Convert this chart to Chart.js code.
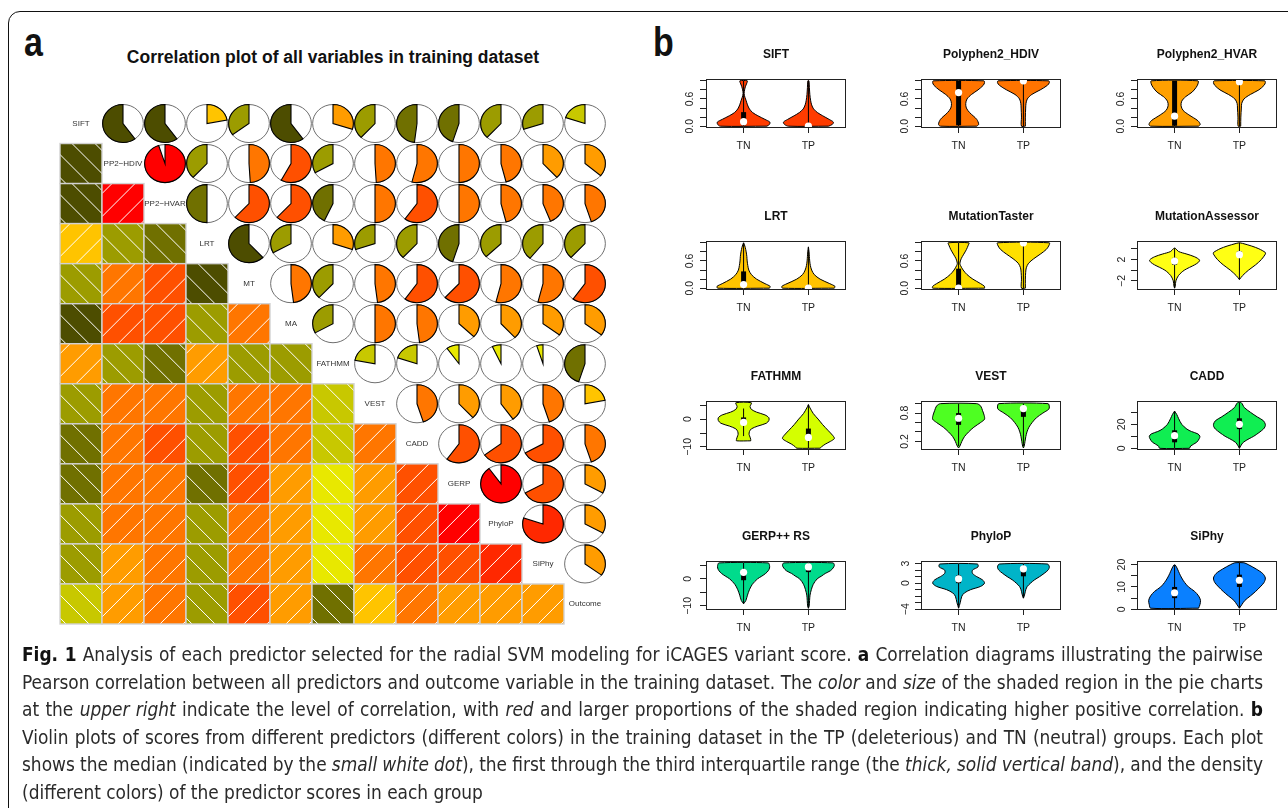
<!DOCTYPE html>
<html>
<head>
<meta charset="utf-8">
<script src="https://cdn.jsdelivr.net/npm/chart.js@4.4.1/dist/chart.umd.min.js"></script>
<style>
  body { margin: 0; width: 1288px; height: 808px; overflow: hidden; position: relative; background: #fff;
         font-family: "Liberation Sans", Arial, sans-serif; }
  .frame { position: absolute; left: 8px; top: 11px; width: 1400px; height: 900px;
           border: 1.5px solid #111; border-radius: 12px; }
  .plabel { position: absolute; font: bold 40px "Liberation Sans", Arial, sans-serif; color: #111;
            transform: scaleX(0.85); transform-origin: left top; line-height: 1; }
  .ctitle { position: absolute; left: 83px; width: 500px; top: 47px; text-align: center;
            font: bold 17.5px "Liberation Sans", Arial, sans-serif; color: #111; }
  canvas { position: absolute; }
  .caption { position: absolute; left: 22px; top: 641px; width: 1241px; color: #2a2a2a;
             font-family: "Liberation Sans Narrow", "DejaVu Sans Condensed", "Liberation Sans", sans-serif; font-size: 19px; }
  .cap-line { height: 27.6px; line-height: 27.6px; white-space: nowrap; }
  .caption b { font-weight: 700; color: #111; }
</style>
</head>
<body>
<div class="frame"></div>
<div class="plabel" style="left:24px;top:22px">a</div>
<div class="plabel" style="left:653px;top:22px">b</div>
<div class="ctitle">Correlation plot of all variables in training dataset</div>
<canvas id="corr" width="640" height="640" style="left:0;top:0;width:640px;height:640px"></canvas>
<div id="violins"></div>
<div class="caption">
  <div class="cap-line"><span><b>Fig. 1</b> Analysis of each predictor selected for the radial SVM modeling for iCAGES variant score. <b>a</b> Correlation diagrams illustrating the pairwise</span></div>
  <div class="cap-line"><span>Pearson correlation between all predictors and outcome variable in the training dataset. The <i>color</i> and <i>size</i> of the shaded region in the pie charts</span></div>
  <div class="cap-line"><span>at the <i>upper right</i> indicate the level of correlation, with <i>red</i> and larger proportions of the shaded region indicating higher positive correlation. <b>b</b></span></div>
  <div class="cap-line"><span>Violin plots of scores from different predictors (different colors) in the training dataset in the TP (deleterious) and TN (neutral) groups. Each plot</span></div>
  <div class="cap-line"><span>shows the median (indicated by the <i>small white dot</i>), the first through the third interquartile range (the <i>thick, solid vertical band</i>), and the density</span></div>
  <div class="cap-line last"><span>(different colors) of the predictor scores in each group</span></div>
</div>
<script>
// ---------- panel a: correlation data ----------
const variables = ['SIFT', 'PP2\u2212HDIV', 'PP2\u2212HVAR', 'LRT', 'MT', 'MA', 'FATHMM', 'VEST', 'CADD', 'GERP', 'PhyloP', 'SiPhy', 'Outcome']
// upper triangle, each row against the variables that follow it
const corrSIFT = [-0.6, -0.6, 0.22, -0.35, -0.6, 0.3, -0.38, -0.48, -0.45, -0.38, -0.3, -0.2]
const corrHDIV = [0.95, -0.38, 0.49, 0.58, -0.33, 0.49, 0.54, 0.5, 0.46, 0.38, 0.36]
const corrHVAR = [-0.5, 0.62, 0.62, -0.43, 0.5, 0.6, 0.5, 0.46, 0.44, 0.45]
const corrLRT = [-0.62, -0.33, 0.3, -0.3, -0.38, -0.45, -0.37, -0.39, -0.38]
const corrMT = [0.48, -0.38, 0.48, 0.6, 0.62, 0.54, 0.54, 0.6]
const corrMA = [-0.33, 0.5, 0.48, 0.37, 0.38, 0.35, 0.35]
const corrFATHMM = [-0.22, -0.2, -0.1, -0.07, -0.05, -0.45]
const corrVEST = [0.45, 0.38, 0.4, 0.45, 0.22]
const corrCADD = [0.6, 0.65, 0.67, 0.45]
const corrGERP = [0.9, 0.67, 0.33]
const corrPhyloP = [0.8, 0.33]
const corrSiPhy = [0.35]
const corrRows = [corrSIFT, corrHDIV, corrHVAR, corrLRT, corrMT, corrMA, corrFATHMM, corrVEST, corrCADD, corrGERP, corrPhyloP, corrSiPhy]

const shadeColors = ['#4d4d00', '#707000', '#9c9c00', '#c8c800', '#e8e800', '#ffc400', '#ff9c00', '#ff7600', '#ff5000', '#ff2800', '#ff0000']
const shadeBreaks = [-0.55, -0.42, -0.25, -0.12, 0.12, 0.27, 0.42, 0.55, 0.72, 0.87]

function shadeColor(r) {
  let i = 0
  while (i < shadeBreaks.length && r > shadeBreaks[i]) i++
  return shadeColors[i]
}

const n = variables.length
const corr = []
for (let i = 0; i < n; i++) corr.push(new Array(n).fill(1))
corrRows.forEach((row, i) => row.forEach((r, k) => {
  corr[i][i + 1 + k] = r
  corr[i + 1 + k][i] = r
}))

const lowerCells = []
const upperCells = []
const diagCells = []
for (let i = 0; i < n; i++) {
  for (let j = 0; j < n; j++) {
    const pt = { x: j + 0.5, y: i + 0.5, r: corr[i][j] }
    if (i > j) lowerCells.push(pt)
    else if (i < j) upperCells.push(pt)
    else diagCells.push({ x: j + 0.5, y: i + 0.5, label: variables[i] })
  }
}

const corrgram = {
  id: 'corrgram',
  afterDatasetsDraw(chart) {
    const { ctx, scales: { x, y } } = chart
    const cw = x.getPixelForValue(1) - x.getPixelForValue(0)
    const ch = y.getPixelForValue(1) - y.getPixelForValue(0)

    // lower panel: shaded, hatched squares
    chart.getDatasetMeta(0).data.forEach((el, k) => {
      const r = chart.data.datasets[0].data[k].r
      const x0 = el.x - cw / 2
      const y0 = el.y - ch / 2
      ctx.save()
      ctx.fillStyle = shadeColor(r)
      ctx.fillRect(x0, y0, cw, ch)
      ctx.beginPath()
      ctx.rect(x0, y0, cw, ch)
      ctx.clip()
      ctx.strokeStyle = '#ffffff'
      ctx.lineWidth = 1
      ctx.beginPath()
      if (r >= 0) {
        for (const c of [10, 33, 56, 79]) { ctx.moveTo(x0, y0 + c); ctx.lineTo(x0 + c, y0) }
      } else {
        for (const c of [-34, -11, 12, 35]) { ctx.moveTo(x0 + c, y0); ctx.lineTo(x0 + c + ch, y0 + ch) }
      }
      ctx.stroke()
      ctx.restore()
      ctx.strokeStyle = '#d2d2d2'
      ctx.lineWidth = 1.4
      ctx.strokeRect(x0, y0, cw, ch)
    })

    // upper panel: pies
    chart.getDatasetMeta(1).data.forEach((el, k) => {
      const r = chart.data.datasets[1].data[k].r
      const rx = cw * 0.485
      const ry = ch * 0.475
      ctx.beginPath()
      ctx.ellipse(el.x, el.y, rx, ry, 0, 0, Math.PI * 2)
      ctx.fillStyle = '#fff'
      ctx.fill()
      ctx.strokeStyle = '#6e6e6e'
      ctx.lineWidth = 1
      ctx.stroke()
      const start = -Math.PI / 2
      ctx.beginPath()
      ctx.moveTo(el.x, el.y)
      ctx.ellipse(el.x, el.y, rx, ry, 0, start, start + Math.PI * 2 * r, r < 0)
      ctx.closePath()
      ctx.fillStyle = shadeColor(r)
      ctx.fill()
      ctx.strokeStyle = '#000'
      ctx.lineWidth = 1.1
      ctx.stroke()
    })

    // diagonal: variable names
    ctx.fillStyle = '#333'
    ctx.font = '8px "Liberation Sans", Arial, sans-serif'
    ctx.textAlign = 'center'
    ctx.textBaseline = 'middle'
    chart.getDatasetMeta(2).data.forEach((el, k) => {
      ctx.fillText(chart.data.datasets[2].data[k].label, el.x, el.y)
    })
  },
}

new Chart(document.getElementById('corr'), {
  type: 'scatter',
  data: {
    datasets: [
      { data: lowerCells, pointRadius: 0 },
      { data: upperCells, pointRadius: 0 },
      { data: diagCells, pointRadius: 0 },
    ],
  },
  options: {
    responsive: false,
    animation: false,
    events: [],
    layout: { padding: { left: 60, top: 103.5, right: 34, bottom: 16 } },
    plugins: { legend: { display: false }, tooltip: { enabled: false } },
    scales: {
      x: { type: 'linear', min: 0, max: 13, display: false },
      y: { type: 'linear', min: 0, max: 13, reverse: true, display: false },
    },
  },
  plugins: [corrgram],
})

// ---------- panel b: violin data ----------
const groups = ['TN', 'TP']
const violinTitles = ['SIFT', 'Polyphen2_HDIV', 'Polyphen2_HVAR', 'LRT', 'MutationTaster', 'MutationAssessor',
  'FATHMM', 'VEST', 'CADD', 'GERP++ RS', 'PhyloP', 'SiPhy']
const violinFills = ['#ff3c00', '#ff7400', '#ffa000', '#ffc300', '#ffe000', '#ffff14',
  '#d4ff00', '#4eff22', '#10ee52', '#00db8c', '#00b4c8', '#0a80ff']
const yLimits = [[-0.04, 1.04], [-0.04, 1.04], [-0.04, 1.04], [-0.04, 1.04], [-0.04, 1.04], [-3.7, 5.45],
  [-11.1, 6.5], [0.017, 1.056], [-1.4, 39.4], [-11.5, 6.6], [-4.12, 3.4], [-0.3, 21.6]]
const unitTicks = [0, 0.2, 0.4, 0.6, 0.8, 1]
const unitLabels = ['0.0', '', '', '0.6', '', '']
const yTicks = [unitTicks, unitTicks, unitTicks, unitTicks, unitTicks, [-2, 0, 2, 4],
  [-10, -5, 0, 5], [0.2, 0.4, 0.6, 0.8, 1.0], [0, 10, 20, 30], [-10, -5, 0, 5], [-4, -3, -2, -1, 0, 1, 2, 3], [0, 5, 10, 15, 20]]
const yTickLabels = [unitLabels, unitLabels, unitLabels, unitLabels, unitLabels, ['\u22122', '', '2', ''],
  ['\u221210', '', '0', ''], ['0.2', '', '', '0.8', ''], ['0', '', '20', ''], ['\u221210', '', '0', ''],
  ['\u22124', '', '', '', '0', '', '', '3'], ['0', '', '10', '', '20']]

// violin outlines: [score, half width] from bottom to top
const siftTN = [[0, 0.36], [0.04, 0.4], [0.09, 0.405], [0.15, 0.33], [0.23, 0.22], [0.3, 0.14], [0.38, 0.09], [0.47, 0.06], [0.56, 0.04], [0.64, 0.02], [0.72, 0.008], [0.8, 0.015], [0.88, 0.03], [0.95, 0.05], [1.0, 0.057]]
const siftTP = [[0, 0.31], [0.04, 0.37], [0.09, 0.385], [0.15, 0.32], [0.23, 0.22], [0.3, 0.14], [0.38, 0.08], [0.47, 0.05], [0.56, 0.035], [0.7, 0.022], [0.85, 0.015], [1.0, 0.008]]
const hdivTN = [[0, 0.28], [0.04, 0.31], [0.15, 0.28], [0.3, 0.17], [0.4, 0.12], [0.5, 0.11], [0.6, 0.13], [0.7, 0.2], [0.8, 0.3], [0.9, 0.38], [0.96, 0.4], [1.0, 0.39]]
const hdivTP = [[0, 0.03], [0.2, 0.03], [0.4, 0.035], [0.5, 0.04], [0.6, 0.06], [0.7, 0.13], [0.8, 0.26], [0.9, 0.37], [0.96, 0.4], [1.0, 0.39]]
const hvarTN = [[0, 0.37], [0.04, 0.395], [0.12, 0.36], [0.25, 0.22], [0.35, 0.13], [0.45, 0.1], [0.55, 0.11], [0.65, 0.17], [0.75, 0.27], [0.85, 0.33], [0.93, 0.36], [1.0, 0.36]]
const hvarTP = [[0, 0.02], [0.2, 0.022], [0.4, 0.03], [0.5, 0.035], [0.6, 0.07], [0.7, 0.17], [0.8, 0.3], [0.9, 0.38], [0.96, 0.4], [1.0, 0.39]]
const lrtTN = [[0, 0.4], [0.04, 0.41], [0.1, 0.33], [0.2, 0.2], [0.3, 0.12], [0.4, 0.08], [0.5, 0.065], [0.6, 0.055], [0.7, 0.05], [0.8, 0.04], [0.9, 0.025], [0.97, 0.01], [1.0, 0]]
const lrtTP = [[0, 0.4], [0.04, 0.41], [0.1, 0.33], [0.2, 0.18], [0.3, 0.09], [0.4, 0.05], [0.5, 0.03], [0.6, 0.02], [0.7, 0.015], [0.8, 0.01], [0.91, 0]]
const mtTN = [[0, 0.4], [0.04, 0.4], [0.1, 0.34], [0.2, 0.22], [0.3, 0.13], [0.4, 0.07], [0.5, 0.03], [0.55, 0.02], [0.65, 0.04], [0.75, 0.08], [0.85, 0.12], [0.95, 0.15], [1.0, 0.16]]
const mtTP = [[0, 0.03], [0.2, 0.03], [0.35, 0.035], [0.45, 0.045], [0.55, 0.08], [0.65, 0.16], [0.75, 0.26], [0.85, 0.35], [0.93, 0.39], [1.0, 0.4]]
const maTN = [[-3.35, 0], [-3, 0.01], [-2, 0.02], [-1, 0.06], [0, 0.15], [1, 0.31], [1.5, 0.37], [1.9, 0.385], [2.5, 0.31], [3, 0.19], [3.5, 0.06], [4.1, 0.01]]
const maTP = [[-1.75, 0], [-1, 0.05], [0, 0.14], [1, 0.25], [2, 0.34], [3, 0.4], [3.3, 0.4], [4, 0.3], [4.5, 0.19], [5, 0.05], [5.1, 0.01]]
const fathmmTN = [[-7.8, 0.11], [-7.3, 0.11], [-6.5, 0.1], [-5.5, 0.085], [-4.5, 0.09], [-3.5, 0.12], [-2.5, 0.22], [-1.5, 0.35], [-0.5, 0.39], [0.5, 0.39], [1.5, 0.33], [2.5, 0.2], [3.5, 0.12], [4.5, 0.1], [5.85, 0.12]]
const fathmmTP = [[-10.45, 0.18], [-10, 0.2], [-9, 0.26], [-8, 0.34], [-7, 0.4], [-6, 0.38], [-4, 0.3], [-2, 0.22], [0, 0.15], [2, 0.075], [4, 0.025], [5.2, 0]]
const vestTN = [[0.06, 0], [0.1, 0.02], [0.2, 0.05], [0.3, 0.09], [0.4, 0.155], [0.5, 0.235], [0.6, 0.34], [0.67, 0.4], [0.75, 0.395], [0.85, 0.37], [0.95, 0.34], [1.0, 0.28]]
const vestTP = [[0.06, 0], [0.1, 0.012], [0.2, 0.025], [0.3, 0.037], [0.4, 0.055], [0.5, 0.085], [0.6, 0.135], [0.7, 0.2], [0.8, 0.3], [0.88, 0.39], [0.93, 0.4], [1.0, 0.38]]
const caddTN = [[0, 0.23], [2, 0.25], [5, 0.34], [8, 0.38], [10, 0.39], [12, 0.36], [14, 0.26], [16, 0.19], [20, 0.11], [25, 0.06], [28, 0.035], [31, 0]]
const caddTP = [[0, 0], [2, 0.02], [5, 0.06], [8, 0.15], [10, 0.22], [13, 0.3], [16, 0.37], [18, 0.395], [20, 0.4], [23, 0.37], [26, 0.28], [30, 0.17], [34, 0.075], [37.9, 0.03]]
const gerpTN = [[-9.2, 0], [-8, 0.035], [-6, 0.06], [-4, 0.09], [-2, 0.135], [0, 0.215], [1, 0.28], [2, 0.34], [3, 0.38], [4, 0.4], [5, 0.4], [5.9, 0.38]]
const gerpTP = [[-10.85, 0], [-10, 0.012], [-8, 0.018], [-6, 0.025], [-4, 0.045], [-2, 0.075], [0, 0.135], [1, 0.2], [2, 0.26], [3, 0.34], [4, 0.38], [5, 0.4], [5.9, 0.38]]
const phylopTN = [[-3.84, 0], [-3, 0.025], [-2, 0.05], [-1.5, 0.09], [-1, 0.185], [-0.5, 0.34], [0, 0.4], [0.5, 0.37], [1, 0.28], [1.5, 0.215], [2, 0.215], [2.5, 0.3], [2.94, 0.29]]
const phylopTP = [[-2.3, 0], [-2, 0.012], [-1.5, 0.025], [-1, 0.037], [-0.5, 0.06], [0, 0.11], [0.5, 0.17], [1, 0.25], [1.5, 0.32], [2, 0.38], [2.5, 0.4], [2.94, 0.37]]
const siphyTN = [[0.5, 0.37], [2, 0.39], [4, 0.4], [6, 0.37], [8, 0.31], [10, 0.215], [12, 0.155], [14, 0.11], [16, 0.075], [18, 0.045], [19.8, 0.01]]
const siphyTP = [[0.5, 0], [2, 0.035], [4, 0.085], [6, 0.17], [8, 0.25], [10, 0.32], [12, 0.38], [14, 0.4], [16, 0.36], [18, 0.26], [20, 0.135], [20.8, 0.07]]
const tnShapes = [siftTN, hdivTN, hvarTN, lrtTN, mtTN, maTN, fathmmTN, vestTN, caddTN, gerpTN, phylopTN, siphyTN]
const tpShapes = [siftTP, hdivTP, hvarTP, lrtTP, mtTP, maTP, fathmmTP, vestTP, caddTP, gerpTP, phylopTP, siphyTP]

// [low whisker, q1, median, q3, high whisker]
const tnStats = [[0, 0.02, 0.1, 0.31, 1], [0, 0.02, 0.74, 1, 1], [0, 0.01, 0.22, 1, 1], [0, 0.03, 0.08, 0.37, 1], [0, 0, 0, 0.43, 1], [-3.35, 1.0, 1.7, 2.3, 4.1],
  [-6.1, -1.8, -1.2, 0.6, 3.8], [0.1, 0.55, 0.69, 0.8, 1], [0, 5, 10.5, 15, 31], [-9.2, -0.5, 2.4, 3.5, 5.9], [-3.84, 0, 0.66, 1.2, 2.94], [0.5, 5, 7.4, 10, 19.8]]
const tpStats = [[0, 0, 0, 0.02, 1], [0, 0.98, 1, 1, 1], [0, 0.97, 0.98, 1, 1], [0, 0, 0, 0.01, 0.91], [0, 0.99, 1, 1, 1], [-1.75, 2.5, 2.9, 3.5, 5.1],
  [-10.45, -7.6, -6.6, -3.4, 5.2], [0.1, 0.72, 0.895, 0.95, 1], [0, 16, 20, 25, 37.9], [-10.85, 2.5, 4.4, 5.5, 5.9], [-2.3, 1.05, 2.2, 2.6, 2.94], [0.5, 10, 13, 15.5, 20.8]]

const boxLefts = [706, 921, 1137]
const boxTops = [79, 241, 401, 561]

function outline(shape, pos) {
  const right = shape.map(([v, w]) => ({ x: pos + w, y: v }))
  const left = shape.slice().reverse().map(([v, w]) => ({ x: pos - w, y: v }))
  return right.concat(left, [right[0]])
}

const plotBox = {
  id: 'plotBox',
  afterDraw(chart) {
    const { ctx, chartArea: a } = chart
    ctx.save()
    ctx.strokeStyle = '#222'
    ctx.lineWidth = 1
    ctx.strokeRect(a.left + 0.5, a.top + 0.5, a.right - a.left - 1, a.bottom - a.top - 1)
    ctx.restore()
  },
}

const host = document.getElementById('violins')
violinTitles.forEach((title, k) => {
  const col = k % 3
  const row = Math.floor(k / 3)
  const cv = document.createElement('canvas')
  cv.width = 180
  cv.height = 117
  cv.style.left = (boxLefts[col] - 36) + 'px'
  cv.style.top = (boxTops[row] - 34) + 'px'
  cv.style.width = '180px'
  cv.style.height = '117px'
  host.appendChild(cv)

  const datasets = []
  const stats = [tnStats[k], tpStats[k]]
  ;[tnShapes[k], tpShapes[k]].forEach((shape, g) => {
    const pos = g + 1
    const s = stats[g]
    datasets.push({ data: outline(shape, pos), showLine: true, fill: 'shape', tension: 0.3,
      backgroundColor: violinFills[k], borderColor: '#000', borderWidth: 1, pointRadius: 0, order: 3 })
    datasets.push({ data: [{ x: pos, y: s[0] }, { x: pos, y: s[4] }], showLine: true, borderColor: '#000',
      borderWidth: 1, pointRadius: 0, order: 2 })
    datasets.push({ data: [{ x: pos, y: s[1] }, { x: pos, y: s[3] }], showLine: true, borderColor: '#000',
      borderWidth: 5, borderCapStyle: 'butt', pointRadius: 0, order: 1 })
    datasets.push({ data: [{ x: pos, y: s[2] }], showLine: false, pointRadius: 3.6, pointBorderWidth: 0,
      pointBackgroundColor: '#fff', order: 0 })
  })

  new Chart(cv, {
    type: 'scatter',
    data: { datasets },
    options: {
      responsive: false,
      animation: false,
      events: [],
      layout: { padding: { left: 0, right: 4, top: 0, bottom: 0 } },
      plugins: {
        legend: { display: false },
        tooltip: { enabled: false },
        title: { display: true, text: title, fullSize: false, color: '#111',
          font: { size: 12, weight: 'bold', family: '"Liberation Sans", Arial, sans-serif' },
          padding: { top: 2, bottom: 17.6 } },
      },
      scales: {
        x: {
          type: 'linear', min: 0.42, max: 2.58,
          afterBuildTicks: (s) => { s.ticks = [{ value: 1 }, { value: 2 }] },
          afterFit: (s) => { s.height = 34; s.paddingLeft = 0; s.paddingRight = 0 },
          ticks: { callback: (v, i) => groups[i], color: '#222', padding: 6.5, autoSkip: false,
            maxRotation: 0, font: { size: 10.5 } },
          grid: { drawOnChartArea: false, drawTicks: true, tickLength: 5, color: '#222' },
          border: { display: false },
        },
        y: {
          type: 'linear', min: yLimits[k][0], max: yLimits[k][1],
          afterBuildTicks: (s) => { s.ticks = yTicks[k].map((v) => ({ value: v })) },
          afterFit: (s) => { s.width = 36; s.paddingTop = 0; s.paddingBottom = 0 },
          ticks: { callback: (v, i) => yTickLabels[k][i], color: '#222', padding: 3, autoSkip: false,
            minRotation: 90, maxRotation: 90, crossAlign: 'center', font: { size: 10.5 } },
          grid: { drawOnChartArea: false, drawTicks: true, tickLength: 6, color: '#222' },
          border: { display: false },
        },
      },
    },
    plugins: [plotBox],
  })
})

// size the caption font to the column, then justify each line
function justifyCaption() {
  const target = 1241
  const cap = document.querySelector('.caption')
  const first = document.querySelector('.cap-line span')
  const base = parseFloat(getComputedStyle(cap).fontSize)
  cap.style.fontSize = (base * 1226 / first.getBoundingClientRect().width) + 'px'
  document.querySelectorAll('.cap-line').forEach((line) => {
    if (line.classList.contains('last')) return
    const span = line.firstElementChild
    const w = span.getBoundingClientRect().width
    const spaces = (span.textContent.match(/ /g) || []).length
    if (spaces) line.style.wordSpacing = ((target - w) / spaces) + 'px'
  })
}
if (document.fonts && document.fonts.ready) document.fonts.ready.then(justifyCaption)
else justifyCaption()
</script>
</body>
</html>
